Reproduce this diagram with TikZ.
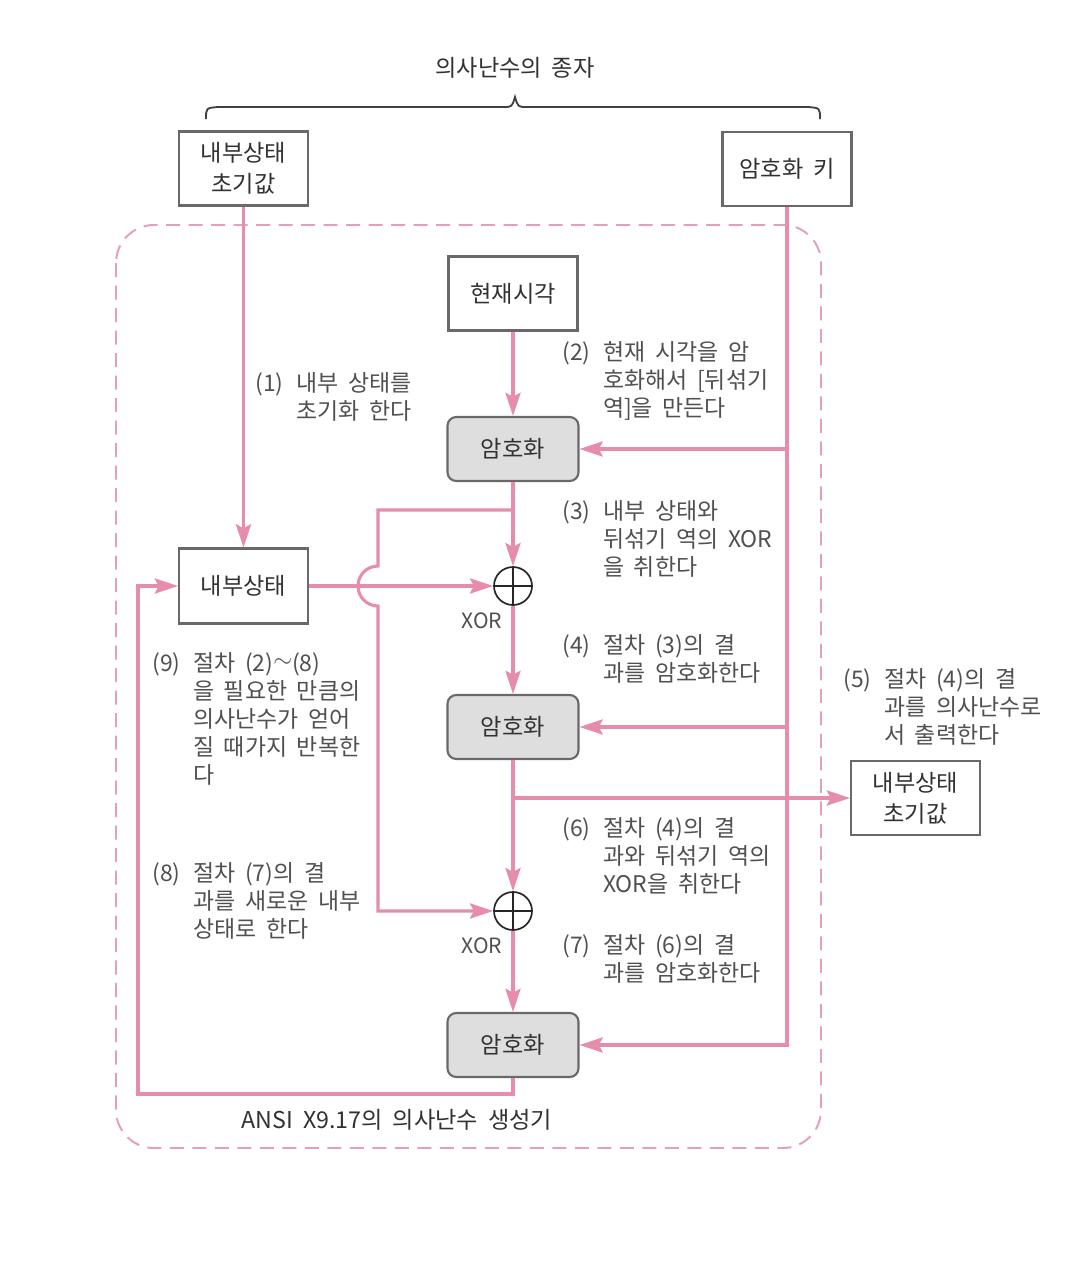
\documentclass[tikz,border=0pt]{standalone}
\usepackage{fontspec}
\setmainfont[WordSpace=1.9]{Noto Sans CJK KR}
\usetikzlibrary{arrows.meta}
\definecolor{pk}{RGB}{230,140,172}
\definecolor{pkd}{RGB}{228,160,186}
\definecolor{bx}{RGB}{105,105,105}
\definecolor{tx}{RGB}{50,50,50}
\definecolor{nt}{RGB}{80,80,80}
\newcommand\ntab[1]{\begin{tabular}[t]{@{}l@{\hspace{0.55em}}l@{}}#1\end{tabular}}
\tikzset{
  pline/.style={draw=pk, line width=2.2pt},
  parrow/.style={pline, -{Stealth[length=0.58cm,width=0.38cm,inset=0.1cm]}},
  wbox/.style={draw=bx, line width=1.5pt, fill=white, minimum width=3.225cm, minimum height=1.85cm, align=center, font=\fontsize{16.5}{22}\selectfont, text=tx, inner sep=0pt},
  gbox/.style={draw=bx, line width=1.5pt, fill=black!13, rounded corners=0.22cm, minimum width=3.275cm, minimum height=1.6cm, font=\fontsize{16.5}{22}\selectfont, text=tx, inner sep=0pt},
  xorc/.style={circle, draw=black!85, line width=1.2pt, minimum size=0.95cm, inner sep=0pt,
    path picture={\draw[line width=1.2pt,black!85] (path picture bounding box.north) -- (path picture bounding box.south) (path picture bounding box.west) -- (path picture bounding box.east);}},
  note/.style={anchor=base west, inner sep=0pt, font=\fontsize{16.3}{20}\selectfont, text=nt},
  xlab/.style={inner sep=0pt, font=\fontsize{15}{16}\selectfont, text=nt},
}
\begin{document}
\begin{tikzpicture}[x=0.025cm, y=-0.025cm]
\useasboundingbox (0,0) rectangle (1074,1265);
\fill[white] (0,0) rectangle (1074,1265);

% title and brace
\node[font=\fontsize{16.5}{18}\selectfont, text=tx] (title) at (515,68) {의사난수의 종자};
\draw[black!75, line width=1.3pt] (206,119) .. controls (206,108) .. (218,107) -- (503,107) .. controls (512,107) .. (515,97) .. controls (518,107) .. (527,107) -- (808,107) .. controls (820,108) .. (820,119);

% dashed generator frame
\draw[pkd, line width=1.4pt, dash pattern=on 10pt off 6pt, rounded corners=0.95cm] (116,225) rectangle (821,1148);
\node[font=\fontsize{16.5}{18}\selectfont, text=tx] (frame) at (397,1120) {ANSI X9.17의 의사난수 생성기};

% nodes
\node[wbox] (init) at (243.5,168.5) {내부상태\\초기값};
\node[wbox] (key) at (787,169) {암호화 키};
\node[wbox] (time) at (513,293.5) {현재시각};
\node[gbox] (enc1) at (513,449) {암호화};
\node[wbox, minimum height=1.875cm] (state) at (243.5,586) {내부상태};
\node[xorc] (x1) at (513,586) {};
\node[xlab] (x1l) at (482,621) {XOR};
\node[gbox] (enc2) at (513,727) {암호화};
\node[wbox] (out) at (915.5,798) {내부상태\\초기값};
\node[xorc] (x2) at (513,911) {};
\node[xlab] (x2l) at (482,946) {XOR};
\node[gbox] (enc3) at (513,1045) {암호화};

\coordinate (br1) at (513,510);
\coordinate (j1) at (378,510);
\coordinate (j2) at (378,566);
\coordinate (lb) at (138,1094);

% connectors
\draw[parrow] (init.south) -- (init.south |- state.north);
\draw[parrow] (key.south) |- (enc3.east);
\draw[parrow] (key.south |- enc1.east) -- (enc1.east);
\draw[parrow] (key.south |- enc2.east) -- (enc2.east);
\draw[parrow] (time.south) -- (enc1.north);
\draw[parrow] (enc1.south) -- (x1.north);
\draw[parrow] (br1) -- (j1) -- (j2) arc[start angle=90, end angle=270, radius=0.5cm] -- (j1 |- x2.west) -- (x2.west);
\draw[parrow] (state.east) -- (x1.west);
\draw[parrow] (x1.south) -- (enc2.north);
\draw[parrow] (enc2.south) -- (x2.north);
\draw[parrow] (enc2.south |- out.west) -- (out.west);
\draw[parrow] (x2.south) -- (enc3.north);
\draw[parrow] (enc3.south) |- (lb) |- (state.west);

% notes
\node[note] (n1) at (255,391) {\ntab{(1) & 내부 상태를\\ & 초기화 한다}};
\node[note] (n2) at (562,360) {\ntab{(2) & 현재 시각을 암\\ & 호화해서 [뒤섞기\\ & 역]을 만든다}};
\node[note] (n3) at (562,519) {\ntab{(3) & 내부 상태와\\ & 뒤섞기 역의 XOR\\ & 을 취한다}};
\node[note] (n4) at (562,653) {\ntab{(4) & 절차 (3)의 결\\ & 과를 암호화한다}};
\node[note] (n5) at (843,687) {\ntab{(5) & 절차 (4)의 결\\ & 과를 의사난수로\\ & 서 출력한다}};
\node[note] (n6) at (562,836) {\ntab{(6) & 절차 (4)의 결\\ & 과와 뒤섞기 역의\\ & XOR을 취한다}};
\node[note] (n7) at (562,953) {\ntab{(7) & 절차 (6)의 결\\ & 과를 암호화한다}};
\node[note] (n8) at (152,881) {\ntab{(8) & 절차 (7)의 결\\ & 과를 새로운 내부\\ & 상태로 한다}};
\node[note] (n9) at (152,671) {\ntab{(9) & 절차 (2)\raisebox{0.15em}{$\sim$}(8)\\ & 을 필요한 만큼의\\ & 의사난수가 얻어\\ & 질 때가지 반복한\\ & 다}};
\end{tikzpicture}
\end{document}
